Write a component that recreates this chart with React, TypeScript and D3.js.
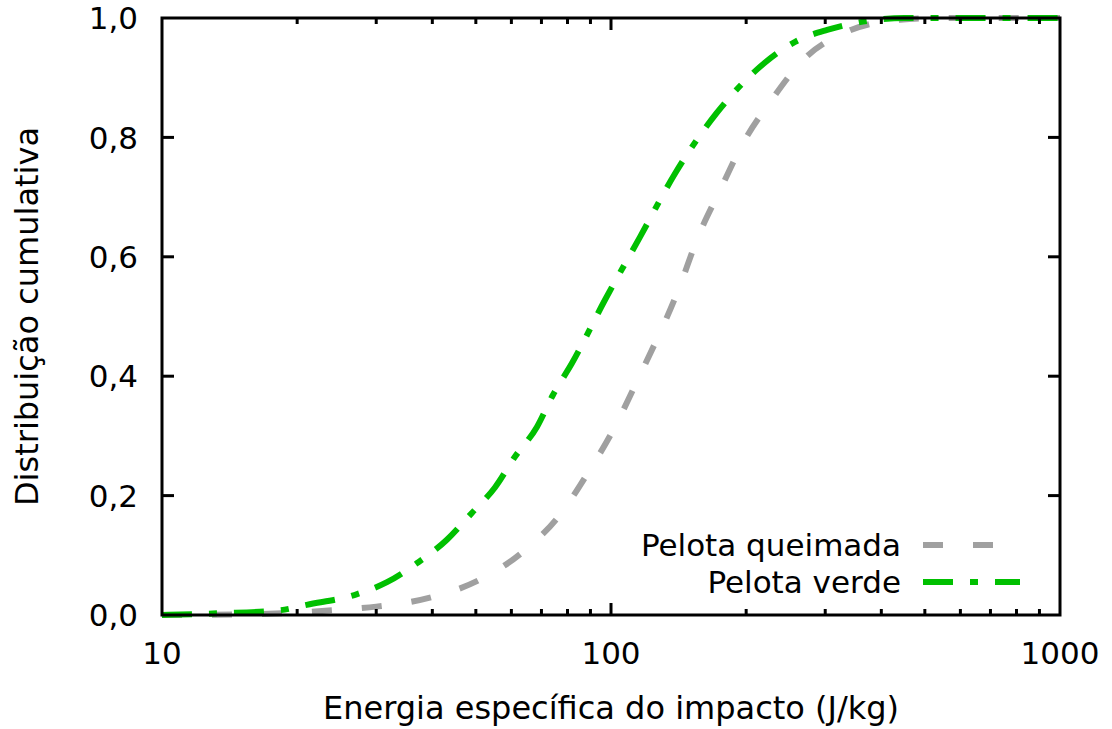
import React, { useEffect, useRef } from "react";
import * as d3 from "d3";

// Pelota queimada (gray, dashed)
const burntEnergy = [10, 15, 20, 25, 30, 39.5, 51, 63.7, 77, 89, 102, 114, 142, 156, 175, 197, 228, 268, 335, 440, 550, 1000];
const burntCdf = [0, 0.001, 0.004, 0.009, 0.014, 0.029, 0.059, 0.106, 0.168, 0.239, 0.315, 0.39, 0.549, 0.632, 0.712, 0.791, 0.863, 0.93, 0.977, 0.997, 1, 1];

// Pelota verde (green, dash-dot)
const greenEnergy = [10, 13.5, 18.3, 21, 27.2, 31.7, 37, 43.1, 49, 55.2, 61.1, 68.4, 74.3, 81.9, 97, 116, 139, 172, 220, 257, 303, 372, 450, 1000];
const greenCdf = [0, 0.003, 0.008, 0.017, 0.035, 0.055, 0.087, 0.126, 0.171, 0.214, 0.265, 0.315, 0.369, 0.422, 0.528, 0.633, 0.74, 0.841, 0.925, 0.96, 0.98, 0.995, 1, 1];

const yTicks = [0, 0.2, 0.4, 0.6, 0.8, 1.0];
const xMajor = [10, 100, 1000];
const seriesNames = ["Pelota queimada", "Pelota verde"];

function App() {
    const svgRef = useRef<SVGSVGElement>(null);

    useEffect(() => {
        const width = 1112;
        const height = 729;
        const left = 162;
        const right = 1060;
        const top = 18;
        const bottom = 615;
        const font = "'DejaVu Sans', sans-serif";
        const fs = "31px";

        const svg = d3.select(svgRef.current)
            .attr("width", width)
            .attr("height", height);
        svg.selectAll("*").remove();

        const x = d3.scaleLog().domain([10, 1000]).range([left, right]);
        const y = d3.scaleLinear().domain([0, 1]).range([bottom, top]);

        svg.append("defs").append("clipPath").attr("id", "plotclip")
            .append("rect")
            .attr("x", left).attr("y", top - 4)
            .attr("width", right - left).attr("height", bottom - top + 8);

        // curves
        const line = d3.line<[number, number]>()
            .x(d => x(d[0]))
            .y(d => y(d[1]))
            .curve(d3.curveMonotoneX);

        const series = [
            { xs: burntEnergy, ys: burntCdf, color: "#a0a0a0", dash: "20,30" },
            { xs: greenEnergy, ys: greenCdf, color: "#00c000", dash: "30,17,8,17" },
        ];

        const g = svg.append("g").attr("clip-path", "url(#plotclip)");
        series.forEach(s => {
            g.append("path")
                .datum(s.xs.map((v, i) => [v, s.ys[i]] as [number, number]))
                .attr("d", line)
                .attr("fill", "none")
                .attr("stroke", s.color)
                .attr("stroke-width", 6)
                .attr("stroke-dasharray", s.dash);
        });

        // frame
        svg.append("rect")
            .attr("x", left).attr("y", top)
            .attr("width", right - left).attr("height", bottom - top)
            .attr("fill", "none")
            .attr("stroke", "black")
            .attr("stroke-width", 3);

        // y ticks, both sides
        yTicks.forEach(t => {
            const yy = y(t);
            if (t > 0 && t < 1) {
                svg.append("line").attr("x1", left).attr("x2", left + 12).attr("y1", yy).attr("y2", yy)
                    .attr("stroke", "black").attr("stroke-width", 3);
                svg.append("line").attr("x1", right - 12).attr("x2", right).attr("y1", yy).attr("y2", yy)
                    .attr("stroke", "black").attr("stroke-width", 3);
            }
            svg.append("text")
                .attr("x", 138).attr("y", yy)
                .attr("dy", "0.36em")
                .attr("text-anchor", "end")
                .style("font-family", font)
                .style("font-size", fs)
                .text(d3.format(".1f")(t).replace(".", ","));
        });

        // x ticks (major + minor), top and bottom
        const minor: number[] = [];
        [10, 100].forEach(dec => {
            for (let k = 2; k <= 9; k++) minor.push(dec * k);
        });
        minor.forEach(v => {
            const xx = x(v);
            svg.append("line").attr("x1", xx).attr("x2", xx).attr("y1", bottom).attr("y2", bottom - 6)
                .attr("stroke", "black").attr("stroke-width", 3);
            svg.append("line").attr("x1", xx).attr("x2", xx).attr("y1", top).attr("y2", top + 6)
                .attr("stroke", "black").attr("stroke-width", 3);
        });
        xMajor.forEach(v => {
            const xx = x(v);
            if (v > 10 && v < 1000) {
                svg.append("line").attr("x1", xx).attr("x2", xx).attr("y1", bottom).attr("y2", bottom - 12)
                    .attr("stroke", "black").attr("stroke-width", 3);
                svg.append("line").attr("x1", xx).attr("x2", xx).attr("y1", top).attr("y2", top + 12)
                    .attr("stroke", "black").attr("stroke-width", 3);
            }
            svg.append("text")
                .attr("x", xx).attr("y", 664)
                .attr("text-anchor", "middle")
                .style("font-family", font)
                .style("font-size", fs)
                .text(String(v));
        });

        // axis titles
        svg.append("text")
            .attr("x", 611).attr("y", 719)
            .attr("text-anchor", "middle")
            .style("font-family", font)
            .style("font-size", "32px")
            .text("Energia específica do impacto (J/kg)");

        svg.append("text")
            .attr("transform", `translate(38,${(top + bottom) / 2}) rotate(-90)`)
            .attr("text-anchor", "middle")
            .style("font-family", font)
            .style("font-size", "32px")
            .text("Distribuição cumulativa");

        // legend
        series.forEach((s, i) => {
            const ly = 545 + i * 37;
            svg.append("text")
                .attr("x", 901).attr("y", ly)
                .attr("dy", "0.36em")
                .attr("text-anchor", "end")
                .style("font-family", font)
                .style("font-size", fs)
                .text(seriesNames[i]);
            svg.append("line")
                .attr("x1", 923).attr("x2", 1020)
                .attr("y1", ly).attr("y2", ly)
                .attr("stroke", s.color)
                .attr("stroke-width", 6)
                .attr("stroke-dasharray", s.dash);
        });
    }, []);

    return (
        <div style={{ position: "absolute", left: 0, top: 0 }}>
            <svg ref={svgRef}></svg>
        </div>
    );
}

export default App;
